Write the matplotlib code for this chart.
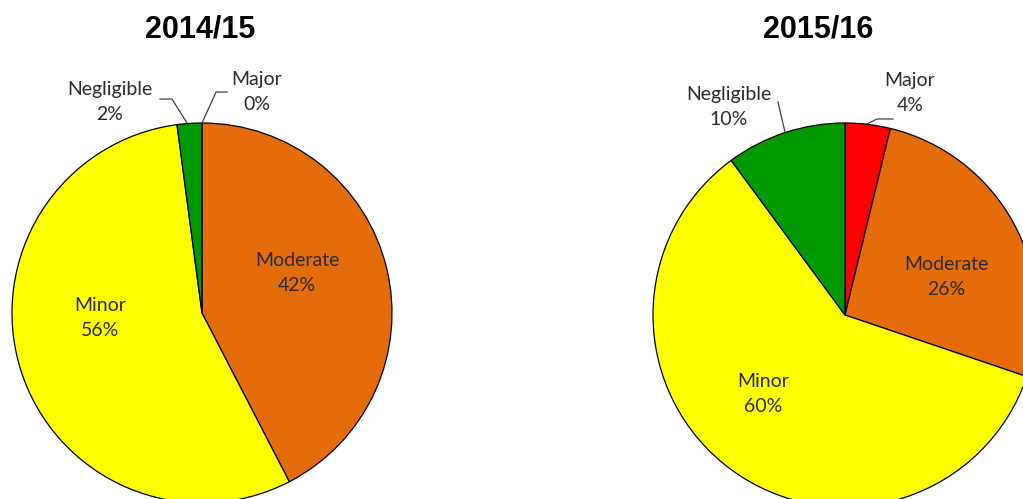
import matplotlib
matplotlib.use("Agg")
import matplotlib.pyplot as plt

# Data
categories = ["Major", "Moderate", "Minor", "Negligible"]
values_1415 = [0.0, 42.4, 55.5, 2.1]
values_1516 = [3.8, 26.4, 59.7, 10.1]
labels_1415 = ["0%", "42%", "56%", "2%"]
labels_1516 = ["4%", "26%", "60%", "10%"]
titles = ["2014/15", "2015/16"]
colors = ["#FF0000", "#E46C0A", "#FFFF00", "#009A00"]

W, H = 1023, 499
fig = plt.figure(figsize=(W / 100, H / 100), dpi=100)

label_font = dict(family=["Lato", "DejaVu Sans"], fontsize=14, color="#2b2b2b",
                  ha="center", va="center", linespacing=1.55)


def make_axes(cx, cy, r):
    # cx, cy in image pixel coords (y from top), r in pixels
    ax = fig.add_axes([(cx - r) / W, (H - cy - r) / H, 2 * r / W, 2 * r / H])
    ax.set_xlim(-1, 1)
    ax.set_ylim(-1, 1)
    ax.set_aspect("equal")
    ax.axis("off")
    return ax


def draw_pie(ax, vals):
    ax.pie(vals, colors=colors, startangle=90, counterclock=False, radius=1.0,
           wedgeprops=dict(edgecolor="black", linewidth=0.9),
           normalize=True)
    ax.set_xlim(-1, 1)
    ax.set_ylim(-1, 1)


# Left pie
ax1 = make_axes(202, 313, 190)
draw_pie(ax1, values_1415)
label_pos_1 = {"Major": (0.29, 1.163), "Moderate": (0.5, 0.21),
               "Minor": (-0.537, -0.026), "Negligible": (-0.484, 1.11)}
for cat, pct in zip(categories, labels_1415):
    x, y = label_pos_1[cat]
    ax1.text(x, y, f"{cat}\n{pct}", clip_on=False, **label_font)
ax1.plot([-0.221, -0.158, -0.079], [1.126, 1.126, 1.0], color="#404040", lw=0.9, clip_on=False)
ax1.plot([0.132, 0.074, 0.0], [1.163, 1.163, 1.0], color="#404040", lw=0.9, clip_on=False)

# Right pie
ax2 = make_axes(845, 315, 192)
draw_pie(ax2, values_1516)
label_pos_2 = {"Major": (0.339, 1.156), "Moderate": (0.526, 0.198),
               "Minor": (-0.427, -0.411), "Negligible": (-0.604, 1.083)}
for cat, pct in zip(categories, labels_1516):
    x, y = label_pos_2[cat]
    ax2.text(x, y, f"{cat}\n{pct}", clip_on=False, **label_font)
ax2.plot([-0.349, -0.3125], [1.109, 0.953], color="#404040", lw=0.9, clip_on=False)
ax2.plot([0.25, 0.167, 0.115], [1.021, 1.021, 0.995], color="#404040", lw=0.9, clip_on=False)

# Titles
fig.text(200 / W, 1 - 30 / H, titles[0], ha="center", va="center", fontsize=22,
         fontweight="bold", family=["Liberation Sans", "DejaVu Sans"])
fig.text(818 / W, 1 - 30 / H, titles[1], ha="center", va="center", fontsize=22,
         fontweight="bold", family=["Liberation Sans", "DejaVu Sans"])

fig.savefig("out.png", dpi=100)
